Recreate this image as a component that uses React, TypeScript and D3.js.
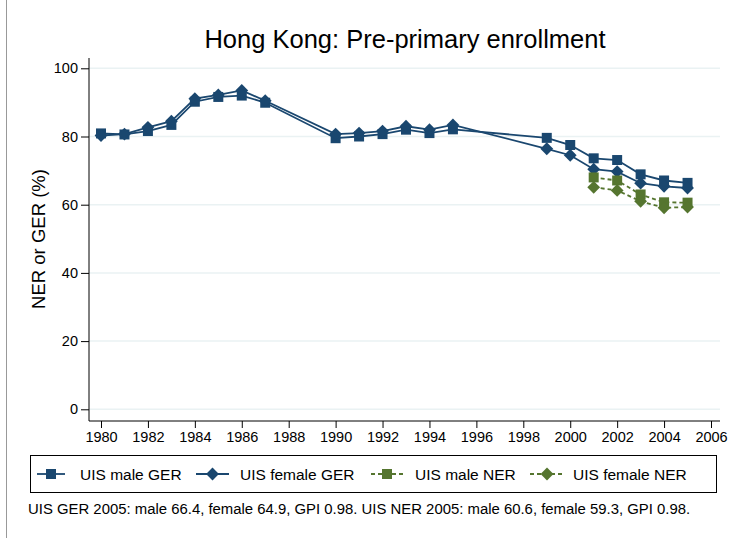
import React, { useEffect, useRef } from 'react';
import * as d3 from 'd3';

const years = [1980, 1981, 1982, 1983, 1984, 1985, 1986, 1987, 1990, 1991, 1992, 1993, 1994, 1995, 1999, 2000, 2001, 2002, 2003, 2004, 2005];
const maleGER = [80.9, 80.6, 81.6, 83.4, 90.2, 91.6, 92.0, 89.9, 79.5, 80.0, 80.7, 82.0, 81.0, 82.1, 79.6, 77.5, 73.6, 73.1, 68.9, 67.1, 66.4];
const femaleGER = [80.3, 80.7, 82.7, 84.5, 91.1, 92.2, 93.5, 90.5, 80.7, 81.0, 81.6, 83.0, 82.0, 83.4, 76.4, 74.5, 70.4, 69.7, 66.3, 65.4, 64.9];
const nerYears = [2001, 2002, 2003, 2004, 2005];
const maleNER = [68.0, 67.1, 63.0, 60.7, 60.6];
const femaleNER = [65.1, 64.2, 61.0, 59.1, 59.3];
const yTicks = [0, 20, 40, 60, 80, 100];
const xTicks = d3.range(1980, 2007, 2);

const navy = '#1a476f';
const green = '#55752f';
const font = 'Liberation Sans, Arial, sans-serif';

const App = () => {
  const ref = useRef<SVGSVGElement>(null);

  useEffect(() => {
    const svg = d3.select(ref.current);
    svg.selectAll('*').remove();

    const x = d3.scaleLinear().domain([1980, 2006]).range([101, 711]);
    const y = d3.scaleLinear().domain([0, 100]).range([409.3, 68.3]);
    const left = 89;
    const right = 720;
    const bottom = 421;

    svg.append('rect').attr('width', 731).attr('height', 538).attr('fill', '#fff');
    svg.append('line').attr('x1', 6.5).attr('x2', 6.5).attr('y1', 0).attr('y2', 538)
      .attr('stroke', '#999').attr('stroke-width', 1);

    // grid
    svg.append('g').selectAll('line').data(yTicks).enter().append('line')
      .attr('x1', left).attr('x2', right)
      .attr('y1', (d) => y(d)).attr('y2', (d) => y(d))
      .attr('stroke', '#eaf2f3').attr('stroke-width', 1.5);

    // axes
    const yAxis = svg.append('g').attr('transform', `translate(${left},0)`)
      .call(d3.axisLeft(y).tickValues(yTicks).tickSize(8).tickPadding(3));
    yAxis.select('.domain').remove();
    svg.append('line').attr('x1', left).attr('x2', left).attr('y1', 58).attr('y2', bottom).attr('stroke', '#000');

    const xAxis = svg.append('g').attr('transform', `translate(0,${bottom})`)
      .call(d3.axisBottom(x).tickValues(xTicks).tickFormat(d3.format('d')).tickSize(7).tickPadding(4));
    xAxis.select('.domain').remove();
    svg.append('line').attr('x1', left).attr('x2', right).attr('y1', bottom).attr('y2', bottom).attr('stroke', '#000');

    svg.selectAll('.tick text').attr('font-family', font).attr('font-size', 14.5).attr('fill', '#000');
    svg.selectAll('.tick line').attr('stroke', '#000');

    const line = d3.line<[number, number]>().x((d) => x(d[0])).y((d) => y(d[1]));
    const sq = d3.symbol().type(d3.symbolSquare).size(100)();
    const dm = d3.symbol().type(d3.symbolSquare).size(82)();

    const series = [
      { xs: years, vs: maleGER, color: navy, dash: null, sym: sq, rot: 0 },
      { xs: years, vs: femaleGER, color: navy, dash: null, sym: dm, rot: 45 },
      { xs: nerYears, vs: maleNER, color: green, dash: '4,3', sym: sq, rot: 0 },
      { xs: nerYears, vs: femaleNER, color: green, dash: '4,3', sym: dm, rot: 45 },
    ];

    series.forEach((s) => {
      const pts = s.xs.map((yr, i) => [yr, s.vs[i]] as [number, number]);
      svg.append('path').attr('d', line(pts)).attr('fill', 'none')
        .attr('stroke', s.color).attr('stroke-width', 1.8)
        .attr('stroke-dasharray', s.dash);
      svg.append('g').selectAll('path').data(pts).enter().append('path')
        .attr('d', s.sym)
        .attr('transform', (d) => `translate(${x(d[0])},${y(d[1])}) rotate(${s.rot})`)
        .attr('fill', s.color);
    });

    // title
    svg.append('text').attr('x', 405).attr('y', 48).attr('text-anchor', 'middle')
      .attr('font-family', font).attr('font-size', 25.5).text('Hong Kong: Pre-primary enrollment');

    svg.append('text').attr('transform', 'translate(45,239) rotate(-90)').attr('text-anchor', 'middle')
      .attr('font-family', font).attr('font-size', 18.5).text('NER or GER (%)');

    // legend
    svg.append('rect').attr('x', 30.5).attr('y', 455.5).attr('width', 686).attr('height', 37)
      .attr('fill', '#fff').attr('stroke', '#000');
    const legendItems = [
      { label: 'UIS male GER', x0: 37, x1: 65, tx: 80, color: navy, dash: null, sym: sq, rot: 0 },
      { label: 'UIS female GER', x0: 196, x1: 229, tx: 240, color: navy, dash: null, sym: dm, rot: 45 },
      { label: 'UIS male NER', x0: 371, x1: 403, tx: 415, color: green, dash: '4,3', sym: sq, rot: 0 },
      { label: 'UIS female NER', x0: 530, x1: 564, tx: 573, color: green, dash: '4,3', sym: dm, rot: 45 },
    ];
    legendItems.forEach((it) => {
      const ly = 474;
      svg.append('line').attr('x1', it.x0).attr('x2', it.x1).attr('y1', ly).attr('y2', ly)
        .attr('stroke', it.color).attr('stroke-width', 1.8).attr('stroke-dasharray', it.dash);
      svg.append('path').attr('d', it.sym)
        .attr('transform', `translate(${(it.x0 + it.x1) / 2},${ly}) rotate(${it.rot})`)
        .attr('fill', it.color);
      svg.append('text').attr('x', it.tx).attr('y', ly + 5.5)
        .attr('font-family', font).attr('font-size', 15.5).text(it.label);
    });

    svg.append('text').attr('x', 28).attr('y', 514)
      .attr('font-family', font).attr('font-size', 14.9)
      .text('UIS GER 2005: male 66.4, female 64.9, GPI 0.98. UIS NER 2005: male 60.6, female 59.3, GPI 0.98.');
  }, []);

  return (
    <svg ref={ref} width={731} height={538} style={{ position: 'absolute', left: 0, top: 0 }} />
  );
};

export default App;
